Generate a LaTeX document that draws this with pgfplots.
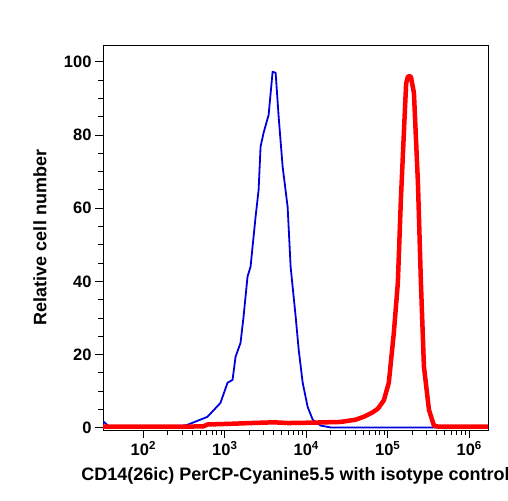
\documentclass[border=0pt]{standalone}
\usepackage{pgfplots}
\pgfplotsset{compat=1.18}
\usepackage{fontspec}
\setmainfont{Liberation Sans}
\definecolor{bl}{RGB}{0,0,220}
\definecolor{rd}{RGB}{255,0,0}
\begin{document}
\begin{tikzpicture}[x=1pt,y=1pt]
\useasboundingbox (0,0) rectangle (508,500);
\begin{axis}[
  at={(103pt,70pt)}, anchor=south west,
  width=385pt, height=385pt, scale only axis,
  xmode=log, xmin=32, xmax=1.7e6,
  ymin=-0.6, ymax=104.6,
  axis line style={line width=0.9pt},
  tick style={line width=0.9pt, black},
  tick align=outside, xtick pos=bottom, ytick pos=left,
  ytick={0,20,40,60,80,100}, minor y tick num=3,
  xtick={1e2,1e3,1e4,1e5,1e6},
  xticklabels={10\textsuperscript{2},10\textsuperscript{3},10\textsuperscript{4},10\textsuperscript{5},10\textsuperscript{6}},
  major tick length=8pt, minor tick length=5pt,
  /pgf/number format/assume math mode=true,
  tick label style={font=\fontsize{16.5}{16.5}\selectfont\bfseries},
  label style={font=\fontsize{18}{18}\selectfont\bfseries},
  xlabel={CD14(26ic) PerCP-Cyanine5.5 with isotype control},
  ylabel={Relative cell number},
  xlabel style={at={(axis description cs:0.5,-0.1299)}, anchor=base},
  ylabel style={at={(axis description cs:-0.1636,0.5)}, anchor=center},
]
\addplot[bl, line width=1.8pt, line join=round] coordinates {
(32,1.8) (36,0.8) (39,0.1) (60,0.1) (120,0.1) (250,0.2) (347,0.8) (612,3.0) (885,6.8) (1079,12.3) (1245,13.1) (1355,19.4) (1560,23.2) (1698,30.3) (1901,41.3) (2070,44.0) (2388,57.7) (2600,65.0) (2748,76.8) (2992,80.6) (3451,85.5) (3864,97.3) (4207,97.0) (4581,85.0) (5129,71.3) (5902,60.4) (6427,44.0) (7413,30.3) (8072,21.3) (9036,12.3) (10400,5.7) (12000,2.2) (15030,0.6) (20000,0.1) (100000,0.1) (1.7e6,0.1)
};
\addplot[rd, line width=4.5pt, line join=round] coordinates {
(32,0.3) (300,0.3) (547,0.4) (612,0.9) (1200,1.1) (2070,1.3) (4000,1.5) (6000,1.3) (11320,1.4) (26500,1.6) (40000,2.2) (50800,3.0) (65000,4.2) (75500,5.2) (89500,7.5) (103000,12.3) (118800,26) (133000,39.6) (144900,62.3) (157700,80.6) (168000,94) (176600,96.0) (192300,96.0) (209500,91.5) (234600,67) (255300,39.6) (278000,16.7) (320500,4.9) (369000,0.6) (420000,0.3) (1.7e6,0.3)
};
\end{axis}
\end{tikzpicture}
\end{document}
